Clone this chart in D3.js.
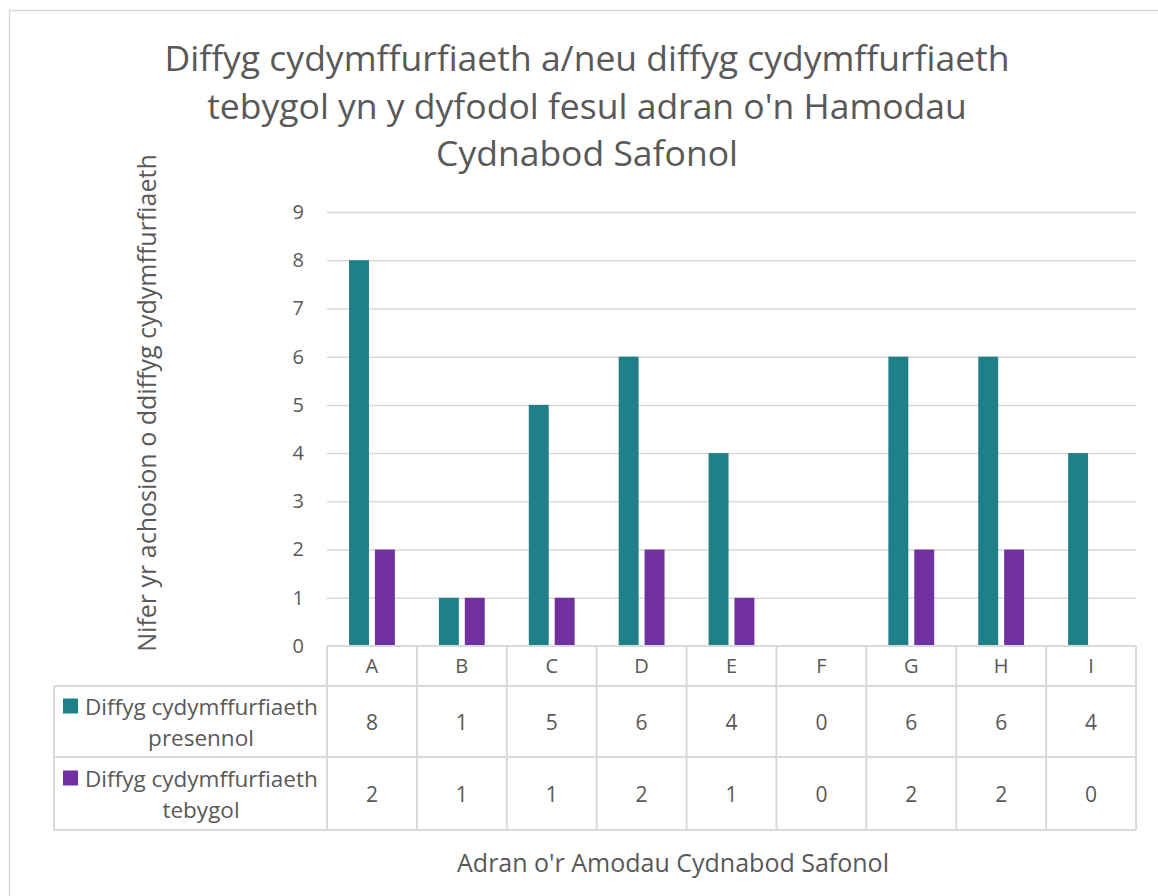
<!DOCTYPE html>
<html>
<head>
<meta charset="utf-8">
<script src="https://cdn.jsdelivr.net/npm/d3@7"></script>
<style>
  html, body { margin: 0; padding: 0; background: #fff; }
  svg { display: block; font-family: "Open Sans", "Noto Sans", sans-serif; }
</style>
</head>
<body>
<svg id="chart" width="1158" height="896"></svg>
<script>
// Daten
const categories = ['A', 'B', 'C', 'D', 'E', 'F', 'G', 'H', 'I'];
const presennol = [8, 1, 5, 6, 4, 0, 6, 6, 4];
const tebygol = [2, 1, 1, 2, 1, 0, 2, 2, 0];
const seriesNames = [
  ['Diffyg cydymffurfiaeth', 'presennol'],
  ['Diffyg cydymffurfiaeth', 'tebygol']
];
const seriesColors = ['#1f8089', '#7030a0'];
const yTicks = [0, 1, 2, 3, 4, 5, 6, 7, 8, 9];
const titleLines = [
  'Diffyg cydymffurfiaeth a/neu diffyg cydymffurfiaeth',
  "tebygol yn y dyfodol fesul adran o'n Hamodau",
  'Cydnabod Safonol'
];
const yTitle = 'Nifer yr achosion o ddiffyg cydymffurfiaeth';
const xTitle = "Adran o'r Amodau Cydnabod Safonol";

const series = [presennol, tebygol];

const svg = d3.select('#chart');
const textColor = '#595959';
const lineColor = '#d9d9d9';

// Rahmen
svg.append('rect')
  .attr('x', 9.5).attr('y', 10.5)
  .attr('width', 1160).attr('height', 900)
  .attr('fill', '#fff').attr('stroke', lineColor).attr('stroke-width', 1.5);

// Plotbereich
const plot = { left: 327, right: 1136, top: 212, bottom: 646 };
const table = { left: 54, headerBottom: 686, row1Bottom: 757, row2Bottom: 830 };

const x = d3.scaleBand()
  .domain(categories)
  .range([plot.left, plot.right])
  .paddingInner(0.49)
  .paddingOuter(0.245);

const xInner = d3.scaleBand()
  .domain([0, 1])
  .range([0, x.bandwidth()])
  .paddingInner(0.23);

const y = d3.scaleLinear()
  .domain([0, 9])
  .range([plot.bottom, plot.top]);

// Titel
svg.append('g').selectAll('text')
  .data(titleLines)
  .join('text')
  .attr('x', 587)
  .attr('y', (d, i) => 71 + i * 47.5)
  .attr('text-anchor', 'middle')
  .attr('fill', textColor)
  .attr('font-size', 35.5)
  .text(d => d);

// Gitterlinien + Y-Achse
const yAxis = svg.append('g')
  .attr('transform', `translate(${plot.left},0)`)
  .call(d3.axisLeft(y).tickValues(yTicks).tickSize(-(plot.right - plot.left)).tickPadding(23));
yAxis.select('.domain').remove();
yAxis.selectAll('.tick line')
  .attr('stroke', d => d === 0 ? 'none' : lineColor)
  .attr('stroke-width', 1.5);
yAxis.selectAll('.tick text')
  .attr('fill', textColor)
  .attr('font-size', 20)
  .attr('font-family', '"Open Sans", "Noto Sans", sans-serif');

// Balken
const groups = svg.append('g').selectAll('g')
  .data(categories)
  .join('g')
  .attr('transform', d => `translate(${x(d)},0)`);

groups.selectAll('rect')
  .data((d, i) => series.map((s, k) => ({ k, v: s[i] })))
  .join('rect')
  .attr('x', d => xInner(d.k))
  .attr('width', xInner.bandwidth())
  .attr('y', d => y(d.v))
  .attr('height', d => y(0) - y(d.v))
  .attr('fill', d => seriesColors[d.k]);

// Datentabelle
const tbl = svg.append('g')
  .attr('stroke', lineColor)
  .attr('stroke-width', 2)
  .attr('fill', 'none');

const step = x.step();
const colEdges = categories.map((c, i) => plot.left + i * step).concat([plot.right]);

tbl.append('line')
  .attr('x1', plot.left).attr('x2', plot.right)
  .attr('y1', plot.bottom).attr('y2', plot.bottom);
[table.headerBottom, table.row1Bottom, table.row2Bottom].forEach(yy => {
  tbl.append('line')
    .attr('x1', table.left).attr('x2', plot.right)
    .attr('y1', yy).attr('y2', yy);
});
colEdges.forEach(xx => {
  tbl.append('line')
    .attr('x1', xx).attr('x2', xx)
    .attr('y1', plot.bottom).attr('y2', table.row2Bottom);
});
tbl.append('line')
  .attr('x1', table.left).attr('x2', table.left)
  .attr('y1', table.headerBottom).attr('y2', table.row2Bottom);

// Kategorie-Beschriftungen
svg.append('g').selectAll('text')
  .data(categories)
  .join('text')
  .attr('x', d => x(d) + x.bandwidth() / 2)
  .attr('y', (plot.bottom + table.headerBottom) / 2 + 7)
  .attr('text-anchor', 'middle')
  .attr('fill', textColor)
  .attr('font-size', 20)
  .text(d => d);

// Werte
const rowMids = [
  (table.headerBottom + table.row1Bottom) / 2,
  (table.row1Bottom + table.row2Bottom) / 2
];
series.forEach((s, k) => {
  svg.append('g').selectAll('text')
    .data(s)
    .join('text')
    .attr('x', (d, i) => x(categories[i]) + x.bandwidth() / 2)
    .attr('y', rowMids[k] + 8)
    .attr('text-anchor', 'middle')
    .attr('fill', textColor)
    .attr('font-size', 21)
    .text(d => d);
});

// Legendenschlüssel in der Tabelle
seriesNames.forEach((lines, k) => {
  const mid = rowMids[k];
  svg.append('rect')
    .attr('x', 63).attr('y', mid - 23)
    .attr('width', 15).attr('height', 15)
    .attr('fill', seriesColors[k]);
  svg.append('text')
    .attr('x', 85).attr('y', mid - 7)
    .attr('fill', textColor)
    .attr('font-size', 22.5)
    .text(lines[0]);
  svg.append('text')
    .attr('x', 201).attr('y', mid + 24.5)
    .attr('text-anchor', 'middle')
    .attr('fill', textColor)
    .attr('font-size', 22.5)
    .text(lines[1]);
});

// Achsentitel
svg.append('text')
  .attr('transform', 'translate(156,403) rotate(-90)')
  .attr('text-anchor', 'middle')
  .attr('fill', textColor)
  .attr('font-size', 25)
  .text(yTitle);

svg.append('text')
  .attr('x', 673).attr('y', 872)
  .attr('text-anchor', 'middle')
  .attr('fill', textColor)
  .attr('font-size', 25)
  .text(xTitle);
</script>
</body>
</html>
